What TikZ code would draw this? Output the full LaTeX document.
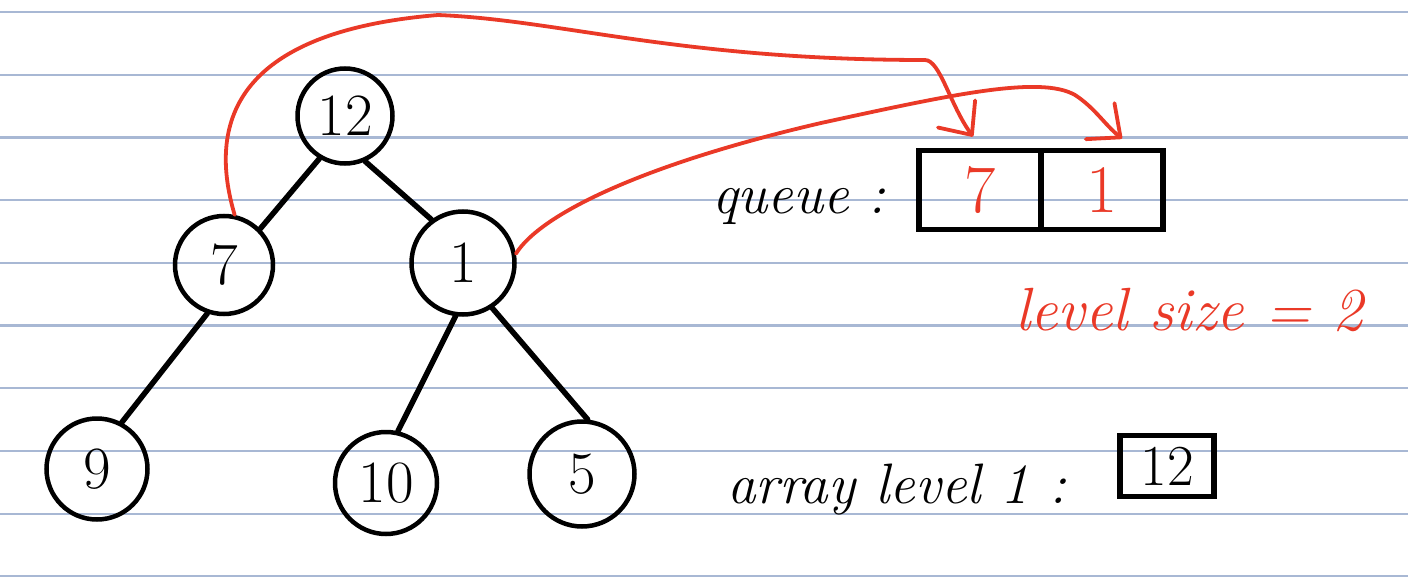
\documentclass[tikz,border=0pt]{standalone}
\usepackage{fontspec}
\usepackage{xcolor}
\usepackage{tikz}
\usetikzlibrary{positioning,arrows.meta}
\definecolor{inkred}{RGB}{234,57,39}
\definecolor{ruled}{RGB}{168,184,212}
\tikzset{
  vertex/.style={draw,circle,line width=4.5pt,minimum size=98pt,inner sep=0pt,font=\fontsize{60}{62}\selectfont},
  cell/.style={draw,line width=5.5pt,minimum width=122pt,minimum height=79pt,outer sep=0pt,inner sep=0pt,text=inkred,font=\fontsize{68}{70}\selectfont},
  note/.style={anchor=base west,inner sep=0pt,font=\fontsize{57}{59}\selectfont\itshape},
}

\begin{document}
\begin{tikzpicture}[x=1pt,y=-1pt,
   branch/.style={line width=5.5pt,line cap=round},
   link/.style={draw=inkred,line width=3.8pt,line cap=round,-{Straight Barb[length=26pt,width=46pt,round]}}]
  \fill[white] (0,0) rectangle (1408,578);
  \useasboundingbox (0,0) rectangle (1408,578);
  \foreach \k in {0,...,9}
    \draw[ruled,line width=2.2pt] (0,12+62.7*\k) -- (1408,12+62.7*\k);

  \node[vertex,minimum size=95pt] (n12) at (345,116) {12};
  \node[vertex] (n7) at (224,265) {7};
  \node[vertex,minimum size=103pt] (n1) at (463,263) {1};
  \node[vertex,minimum size=101pt] (n9) at (97,469) {9};
  \node[vertex,minimum size=102pt] (n10) at (386,483) {10};
  \node[vertex,minimum size=105pt] (n5) at (582,474) {5};

  \draw[branch] (n12.239) -- (n7.45);
  \draw[branch] (n12.294) -- (n1.126);
  \draw[branch] (n7.251) -- (n9.62);
  \draw[branch] (n1.262) -- (n10.77);
  \draw[branch] (n1.303) -- (n5.84);

  \node[note] (queue) at (712,213) {queue :};
  \node[cell] (q7) at (980,190) {7};
  \node[cell,right=0pt of q7] (q1) {1};
  \node[note,text=inkred,font=\fontsize{61}{63}\selectfont\itshape] (size) at (1015,330) {level size = 2};
  \node[note] (arr) at (727,503) {array level 1 :};
  \node[cell,minimum width=94pt,minimum height=61pt,text=black,font=\fontsize{58}{60}\selectfont] (a12) at (1167,466) {12};

  \coordinate (t7) at ([xshift=-7pt,yshift=14pt]q7.north);
  \coordinate (t1) at ([xshift=20pt,yshift=12pt]q1.north);
  \draw[link] (n7.78) .. controls (208,125) and (232,32) .. (438,15)
    .. controls (560,20) and (680,60) .. (925,60)
    .. controls (940,60) and (950,105) .. (t7);
  \draw[link] (n1.10) .. controls (540,215) and (640,165) .. (821,123)
    .. controls (950,95) and (1040,75) .. (1075,95)
    .. controls (1095,108) and (1105,125) .. (t1);
\end{tikzpicture}
\end{document}
